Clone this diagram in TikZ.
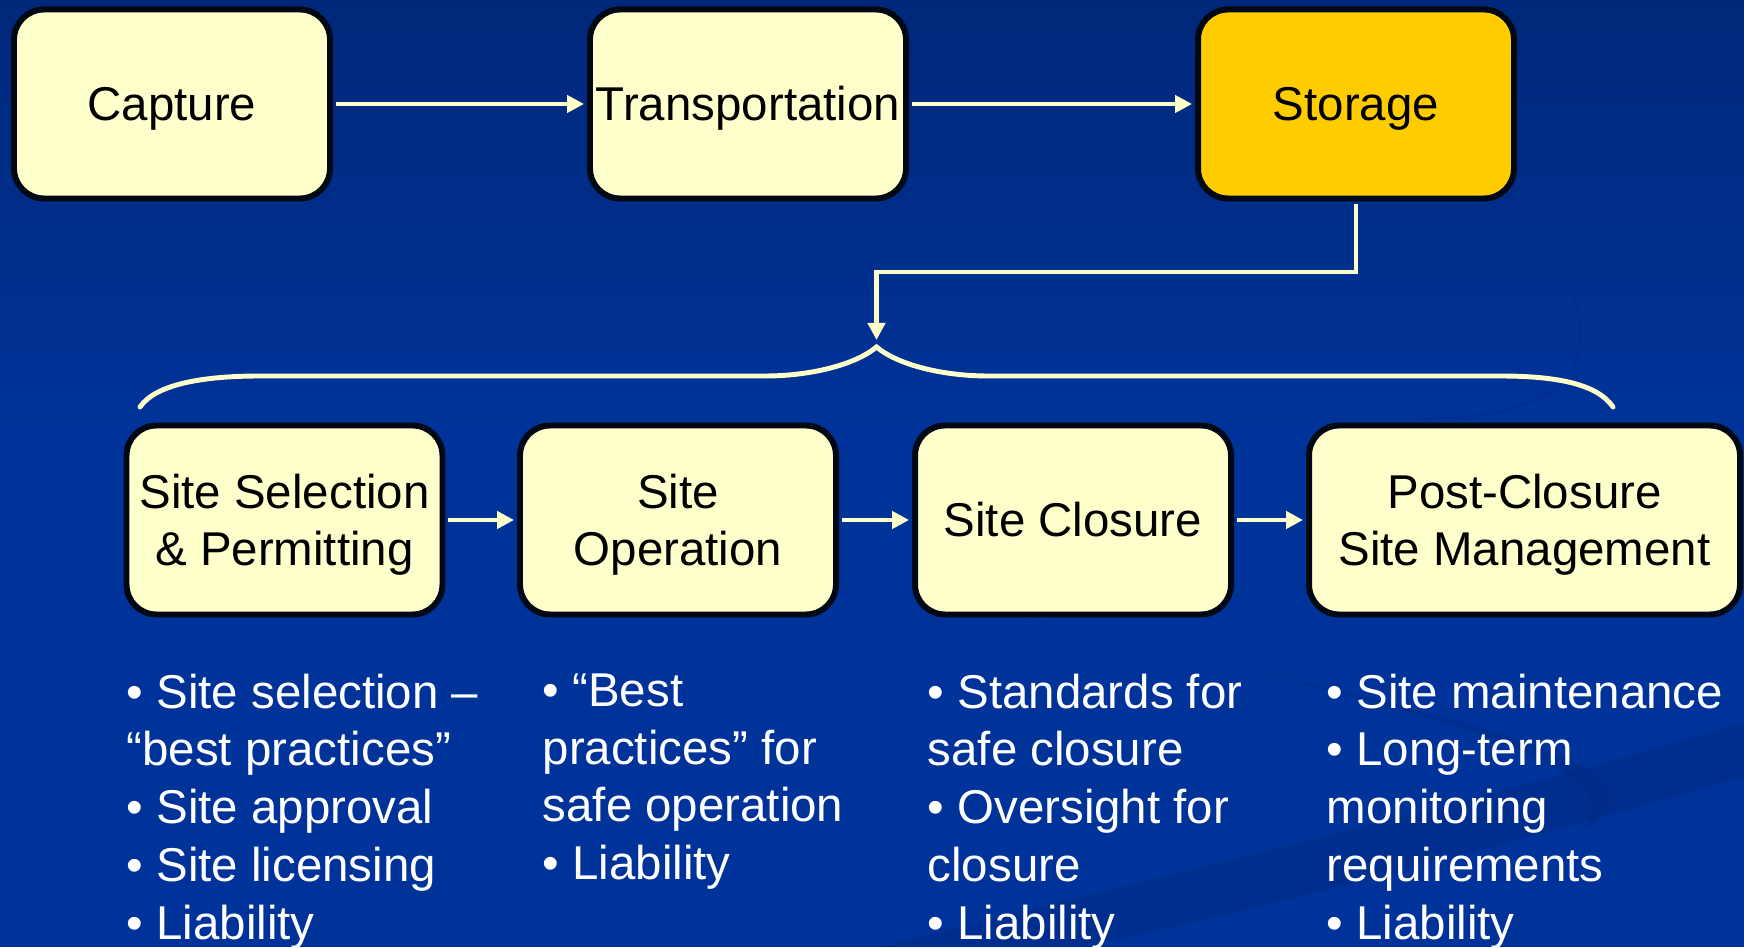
\documentclass[tikz,border=0pt]{standalone}
\usepackage{fontspec}
\setmainfont{Liberation Sans}
\usetikzlibrary{arrows.meta}

\definecolor{bgtop}{HTML}{00287A}
\definecolor{bgblue}{HTML}{003399}
\definecolor{swoosh}{HTML}{002A85}
\definecolor{boxfill}{HTML}{FFFFCC}
\definecolor{gold}{HTML}{FFCC00}
\definecolor{edge}{HTML}{000814}

\tikzset{
  stage/.style={draw=edge, line width=1.7pt, fill=boxfill, rounded corners=0.3cm,
    minimum width=3.16cm, minimum height=1.89cm, inner sep=0pt, align=center,
    font=\fontsize{13.5}{16.45}\selectfont, text height=9.67pt, text depth=0pt},
  twolines/.style={text height=26.12pt},
  flow/.style={draw=boxfill, line width=1.2pt, shorten <=0.85pt, shorten >=0.85pt,
    -{Triangle[length=0.17cm,width=0.17cm]}},
  brace/.style={draw=boxfill, line width=1.4pt, line cap=round},
  bullets/.style={anchor=north west, inner sep=0pt, align=left, text=white,
    font=\fontsize{13.5}{16.45}\selectfont}
}

\begin{document}
\begin{tikzpicture}
\useasboundingbox (0,0) rectangle (17.44,9.47);
% background
\fill[bgblue] (0,0) rectangle (17.44,5.2);
\shade[top color=bgtop, bottom color=bgblue] (0,5.19) rectangle (17.44,9.47);
\fill[swoosh, opacity=.5] (10.2,3.3) .. controls (13.5,2.5) and (17.2,1.9) .. (15.8,1.15) .. controls (16.6,1.9) and (13.4,2.55) .. (10.2,3.3);
\fill[swoosh, opacity=.5] (8.8,0) .. controls (12,0.8) and (15,1.5) .. (17.44,2.25) -- (17.44,1.7) .. controls (15,1.0) and (12.5,0.35) .. (10.8,0) -- cycle;
\draw[swoosh, opacity=.45, line width=0.5pt] (15.57,6.80) .. controls (15.95,6.3) and (15.85,5.6) .. (15.33,5.47) .. controls (15.0,5.33) .. (14.17,5.27);

% top row
\node[stage] (cap) at (1.72,8.43) {Capture};
\node[stage] (trans) at (7.48,8.43) {Transportation};
\node[stage, fill=gold] (stor) at (13.56,8.43) {Storage};

\draw[flow] (cap) -- (trans);
\draw[flow] (trans) -- (stor);

% storage splits into four stages
\coordinate (bend) at (8.765,6.75);
\coordinate (tip) at (8.765,6.07);
\draw[flow, shorten >=0pt] (stor.south) |- (bend) -- (tip);

\draw[brace] (1.40,5.40) .. controls (1.55,5.62) and (2.0,5.71) .. (2.6,5.71) -- (7.65,5.71)
  .. controls (8.1,5.71) and (8.55,5.82) .. (8.765,6.00)
  .. controls (8.98,5.82) and (9.43,5.71) .. (9.88,5.71) -- (15.0,5.71)
  .. controls (15.6,5.71) and (15.98,5.62) .. (16.13,5.40);

% bottom row
\node[stage, twolines] (sel) at (2.845,4.27) {Site Selection\\ \& Permitting};
\node[stage, twolines] (oper) at (6.78,4.27) {Site\\Operation};
\node[stage] (clos) at (10.73,4.27) {Site Closure};
\node[stage, twolines, minimum width=4.31cm] (post) at (15.245,4.27) {Post-Closure\\Site Management};

\foreach \a/\b in {sel/oper, oper/clos, clos/post}
  \draw[flow] (\a) -- (\b);

% what each stage covers
\node[bullets] (selnotes) at (1.26,2.74) {• Site selection –\\“best practices”\\• Site approval\\• Site licensing\\• Liability};
\node[bullets] (opernotes) at (5.42,2.74) {• “Best\\practices” for\\safe operation\\• Liability};
\node[bullets] (closnotes) at (9.27,2.74) {• Standards for\\safe closure\\• Oversight for\\closure\\• Liability};
\node[bullets] (postnotes) at (13.26,2.74) {• Site maintenance\\• Long-term\\monitoring\\requirements\\• Liability};
\end{tikzpicture}
\end{document}
